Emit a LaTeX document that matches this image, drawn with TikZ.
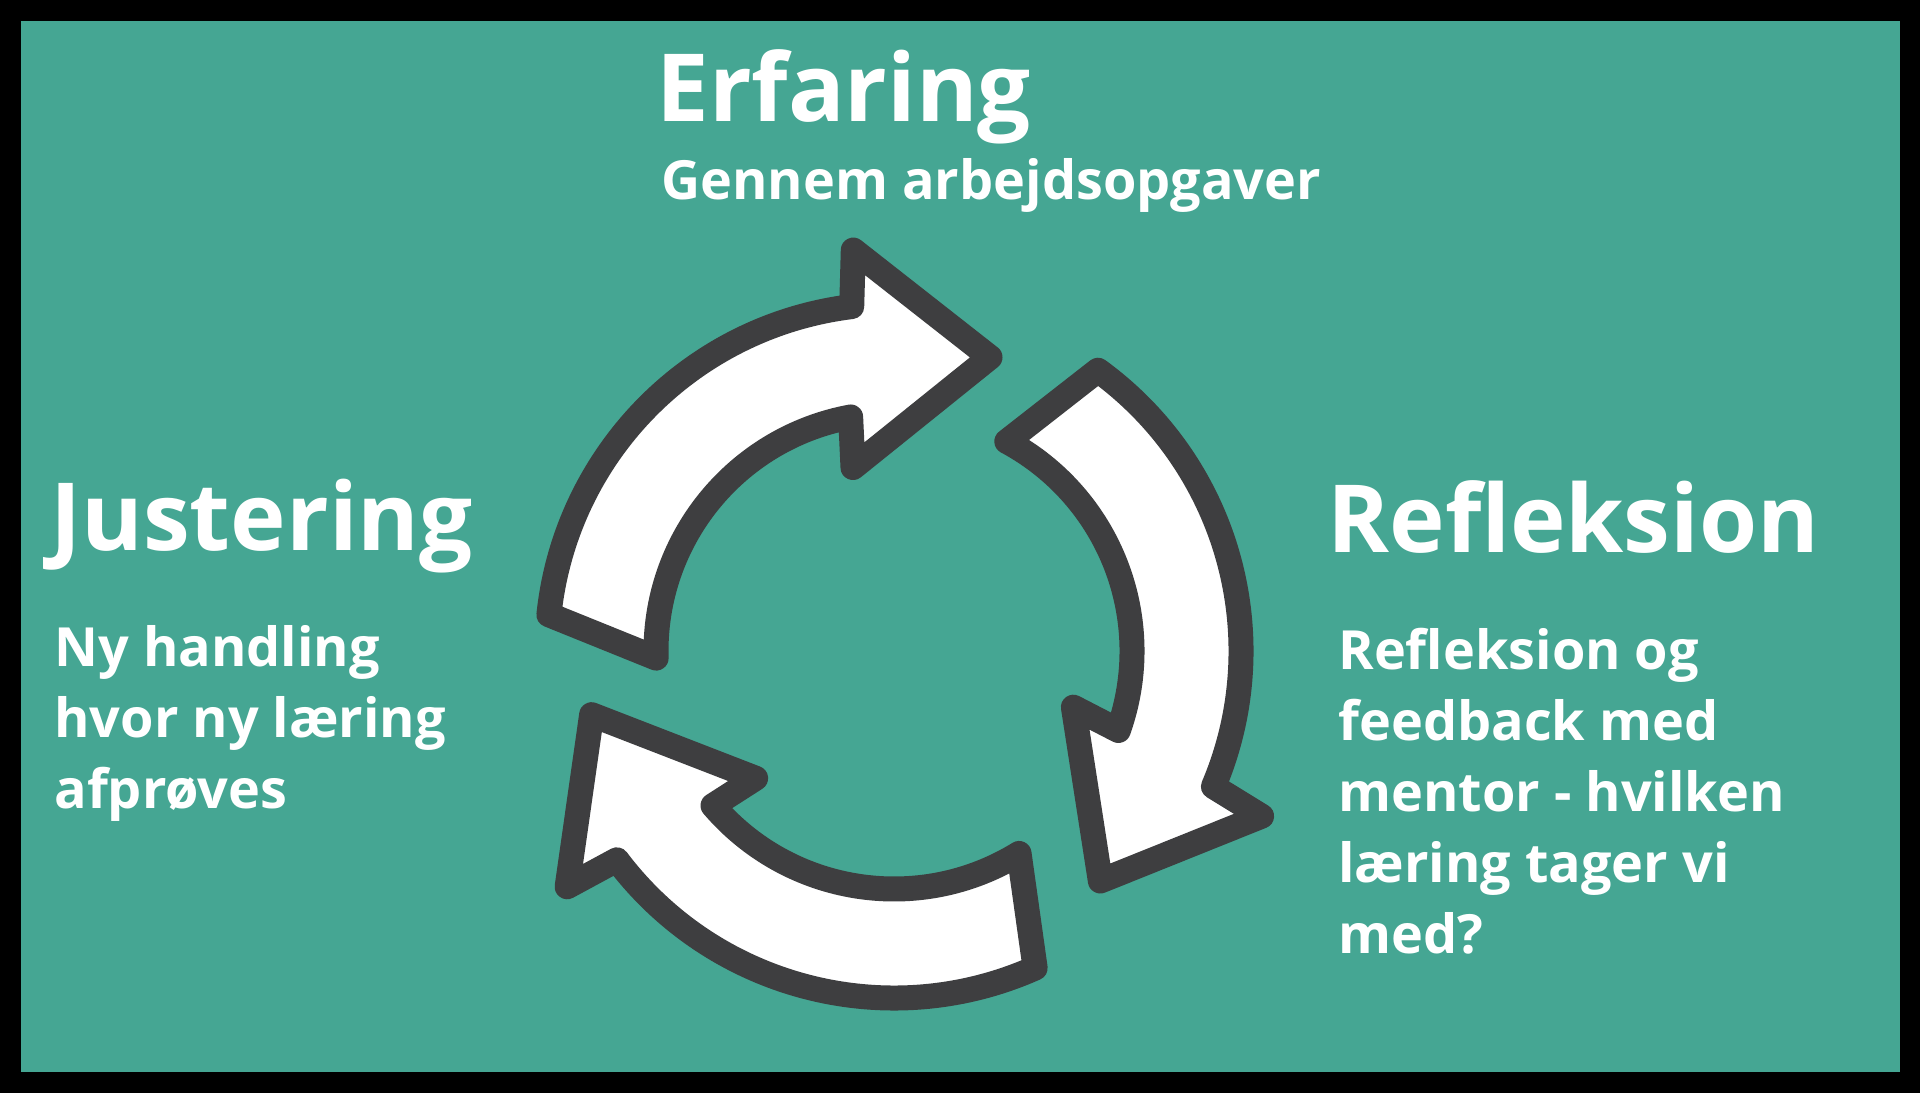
\documentclass[tikz,border=0pt]{standalone}
\usepackage{fontspec}
\setmainfont{Open Sans}
\definecolor{cycleteal}{HTML}{45A693}
\definecolor{cycledark}{HTML}{3E3E40}
\tikzset{
  ringarrow/.style={draw=cycledark, fill=white, line width=12.5pt, line join=round},
  headtext/.style={text=white, font=\bfseries\fontsize{47}{56}\selectfont, anchor=base west, inner sep=0pt},
  bodytext/.style={text=white, font=\bfseries\fontsize{27}{35.5}\selectfont, anchor=base west, inner sep=0pt, align=left},
}
\begin{document}
\begin{tikzpicture}[x=0.5pt, y=0.5pt]
  % Black frame and teal panel
  \fill[black] (0,0) rectangle (1920,1093);
  \fill[cycleteal] (21,21) rectangle (1900,1072);

  % Three curved arrows round the centre, each turned by 120 degrees
  \coordinate (hub) at (894,442);
  \foreach \turn in {0,-120,-240} {
    \begin{scope}[shift={(hub)}, rotate=\turn]
      \draw[ringarrow] (174:347) arc[start angle=174, end angle=97, radius=347]
        -- (95.8:403) -- (71.9:309) -- (102.6:188) -- (100.5:238)
        arc[start angle=100.5, end angle=181.7, radius=238] -- cycle;
    \end{scope}
  }

  % Headings
  \node[headtext] (erfaring) at (656,971) {Erfaring};
  \node[headtext] (justering) at (50,542) {Justering};
  \node[headtext] (refleksion) at (1327,540) {Refleksion};

  % Descriptions (multi-line nodes sit on their last line)
  \node[bodytext] (gennem) at (661,893) {Gennem arbejdsopgaver};
  \node[bodytext] (nyhandling) at (54,285) {Ny handling\\hvor ny læring\\afprøves};
  \node[bodytext] (feedback) at (1338,140) {Refleksion og\\feedback med\\mentor - hvilken\\læring tager vi\\med?};
\end{tikzpicture}
\end{document}
